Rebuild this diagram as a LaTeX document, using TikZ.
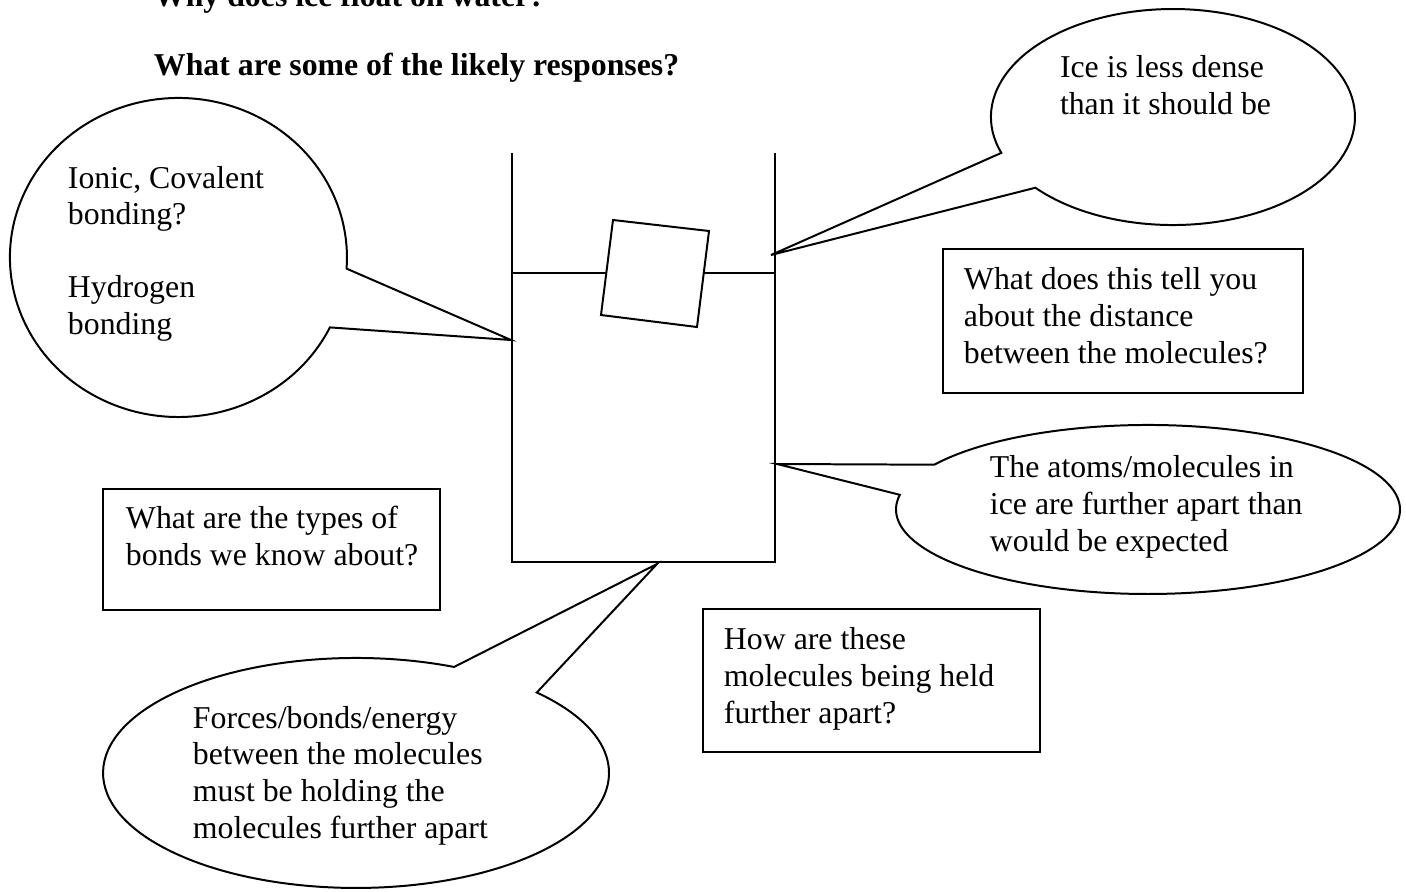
\documentclass[tikz,border=0pt]{standalone}
\usepackage{fontspec}
\setmainfont{Liberation Serif}
\usetikzlibrary{fit}
\begin{document}
\begin{tikzpicture}[x=0.3774pt, y=-0.3774pt, line width=0.75pt,
  txt/.style={anchor=base west, inner sep=0pt, align=left, font=\fontsize{12}{13.8}\selectfont},
  ttl/.style={anchor=base west, inner sep=0pt, font=\fontsize{12}{13.8}\selectfont\bfseries},
  qbox/.style={draw, inner sep=0pt, line width=0.75pt}]
\useasboundingbox (0,0) rectangle (1406,892);

% titles (the first is cut by the top edge, as in the reference)
\node[ttl] (q1) at (153,6) {Why does ice float on water?};
\node[ttl] (q2) at (153,75) {What are some of the likely responses?};

% beaker
\coordinate (wTL) at (512,153);
\coordinate (wBL) at (512,562);
\coordinate (wBR) at (775,562);
\coordinate (wTR) at (775,153);
\draw (wTL) -- (wBL) -- (wBR) -- (wTR);
\coordinate (wl1) at (512,273);
\coordinate (wl2) at (606.3,273);
\coordinate (wl3) at (703.8,273);
\coordinate (wl4) at (775,273);
\draw (wl1) -- (wl2);
\draw (wl3) -- (wl4);
% ice cube
\coordinate (i1) at (613,220);
\coordinate (i2) at (709,231);
\coordinate (i3) at (697,327);
\coordinate (i4) at (601,315);
\draw (i1) -- (i2) -- (i3) -- (i4) -- cycle;

% tail tips
\coordinate (tipL) at (511,340);
\coordinate (tipTR) at (771,255);
\coordinate (tipR) at (777,464);
\coordinate (tipB) at (657,564);

% left bubble (base anchor = baseline of the last line)
\draw (tipL) -- (329.9,327.4) arc[start angle=26, end angle=364, x radius=168.5, y radius=159.5] -- cycle;
\node[txt] (bL) at (67,334.3) {Ionic, Covalent\\bonding?\\[13.8pt]Hydrogen\\bonding};

% top right bubble
\draw (tipTR) -- (1001.3,152.9) arc[start angle=160.6, end angle=499.1, x radius=182, y radius=108] -- cycle;
\node[txt] (bTR) at (1059,114) {Ice is less dense\\than it should be};

% right bubble
\draw (tipR) -- (934.3,464.7) arc[start angle=212, end angle=550, x radius=252, y radius=84.5] -- cycle;
\node[txt] (bR) at (989,551) {The atoms/molecules in\\ice are further apart than\\would be expected};

% bottom bubble
\draw (tipB) -- (536.8,692.5) arc[start angle=315.6, end angle=652.8, x radius=253, y radius=115] -- cycle;
\node[txt] (bB) at (192,838) {Forces/bonds/energy\\between the molecules\\must be holding the\\molecules further apart};

% question boxes
\node[qbox, fit={(103,489) (440,610)}] (boxA) {};
\node[txt] (tA) at (125,565.5) {What are the types of\\bonds we know about?};

\node[qbox, fit={(943,249) (1303,393)}] (boxB) {};
\node[txt] (tB) at (963,363) {What does this tell you\\about the distance\\between the molecules?};

\node[qbox, fit={(703,609) (1040,752)}] (boxC) {};
\node[txt] (tC) at (723,723) {How are these\\molecules being held\\further apart?};
\end{tikzpicture}
\end{document}
